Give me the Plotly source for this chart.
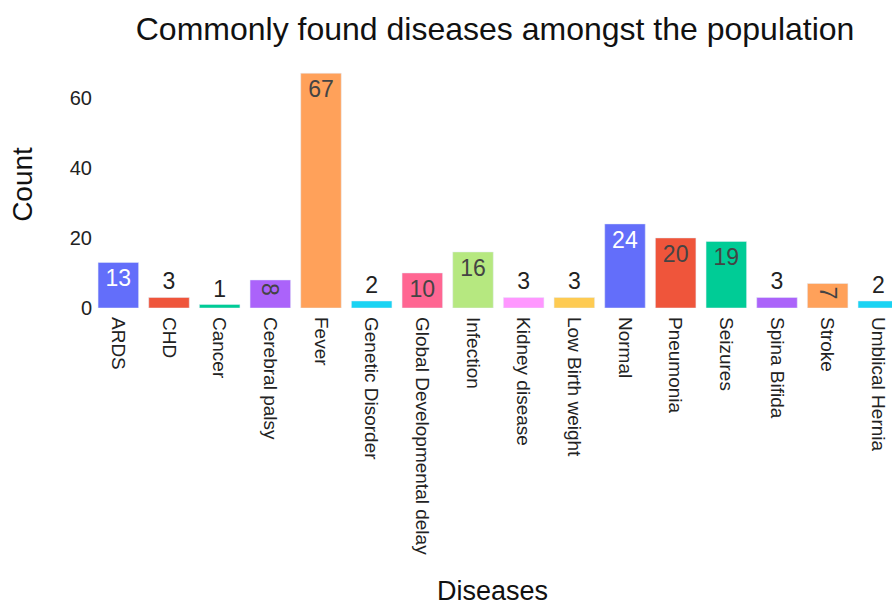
import plotly.graph_objects as go

# Disease counts in the surveyed population
diseases = [
    "ARDS", "CHD", "Cancer", "Cerebral palsy", "Fever", "Genetic Disorder",
    "Global Developmental delay", "Infection", "Kidney disease", "Low Birth weight",
    "Normal", "Pneumonia", "Seizures", "Spina Bifida", "Stroke", "Umblical Hernia",
]
counts = [13, 3, 1, 8, 67, 2, 10, 16, 3, 3, 24, 20, 19, 3, 7, 2]

palette = ["#636EFA", "#EF553B", "#00CC96", "#AB63FA", "#FFA15A",
           "#19D3F3", "#FF6692", "#B6E880", "#FF97FF", "#FECB52"]

fig = go.Figure()
for i, (name, val) in enumerate(zip(diseases, counts)):
    fig.add_trace(go.Bar(
        x=[name], y=[val], name=name,
        marker_color=palette[i % len(palette)],
        text=[val], textposition="auto",
        textfont=dict(size=23),
        showlegend=False,
    ))

fig.update_layout(
    width=892, height=606,
    margin=dict(l=93, r=0, t=61, b=298),
    paper_bgcolor="white", plot_bgcolor="white",
    font=dict(family="Liberation Sans, Arial, sans-serif", size=19, color="#222"),
    title=dict(text="Commonly found diseases amongst the population",
               x=0.555, xanchor="center", y=0.953, yanchor="middle",
               font=dict(size=32, color="#111")),
    bargap=0.2,
    barmode="relative",
)
fig.update_xaxes(
    title=dict(text="Diseases", font=dict(size=27, color="#111"), standoff=28),
    tickangle=90, showgrid=False, zeroline=False,
    ticklabelstandoff=8, tickfont=dict(size=19),
    categoryorder="array", categoryarray=diseases,
    range=[-0.5, 15.27],
)
fig.update_yaxes(
    title=dict(text="Count", font=dict(size=28, color="#111"), standoff=28),
    tickvals=[0, 20, 40, 60], showgrid=False, zeroline=False,
    tickfont=dict(size=20),
    range=[0, 70.5],
)

fig.write_html("out.html")
